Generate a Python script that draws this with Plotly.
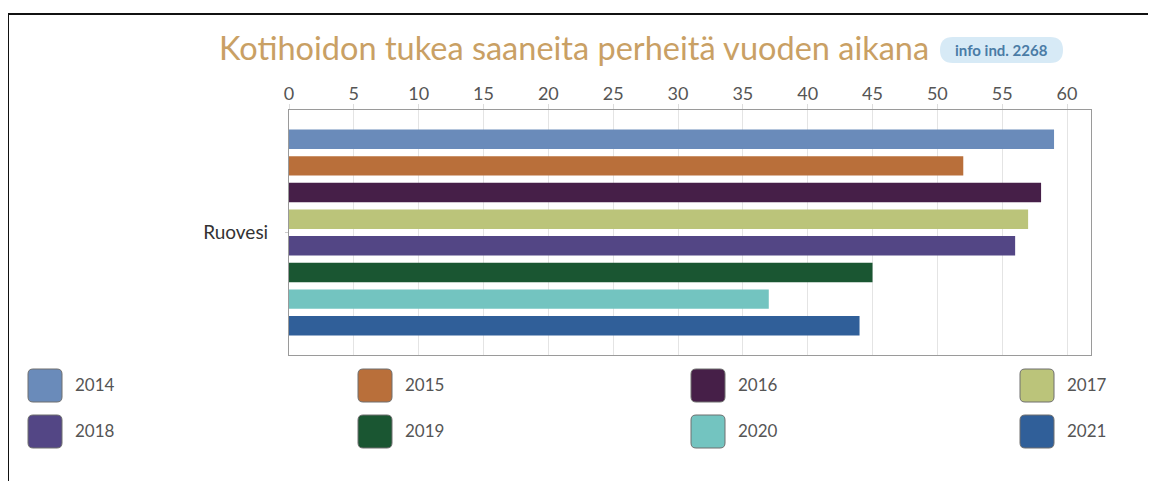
import plotly.graph_objects as go

# ---- data ----
categories = ["Ruovesi"]
years = ["2014", "2015", "2016", "2017", "2018", "2019", "2020", "2021"]
values = [59, 52, 58, 57, 56, 45, 37, 44]
colors = ["#6a8bba", "#b96f3a", "#461f48", "#bbc47a", "#534685", "#1a5632", "#73c4c0", "#305f99"]
x_ticks = [0, 5, 10, 15, 20, 25, 30, 35, 40, 45, 50, 55, 60]
title_text = "Kotihoidon tukea saaneita perheitä vuoden aikana"
badge_text = "info ind. 2268"

OFF = 8  # page body margin
W, H = 1156 - 2 * OFF, 489 - 2 * OFF
L, R, T, B = 289, 1091, 110, 355  # plot area in screenshot pixels


def px(x):
    return (x - L) / (R - L)


def py(y):
    return (B - y) / (B - T)


def rrect(x0, y0, x1, y1, r):
    pts = [
        f"M{px(x0 + r)},{py(y0)}",
        f"L{px(x1 - r)},{py(y0)}",
        f"Q{px(x1)},{py(y0)} {px(x1)},{py(y0 + r)}",
        f"L{px(x1)},{py(y1 - r)}",
        f"Q{px(x1)},{py(y1)} {px(x1 - r)},{py(y1)}",
        f"L{px(x0 + r)},{py(y1)}",
        f"Q{px(x0)},{py(y1)} {px(x0)},{py(y1 - r)}",
        f"L{px(x0)},{py(y0 + r)}",
        f"Q{px(x0)},{py(y0)} {px(x0 + r)},{py(y0)}",
        "Z",
    ]
    return " ".join(pts)


fig = go.Figure()
for yr, v, c in zip(years, values, colors):
    fig.add_trace(go.Bar(
        y=categories, x=[v], name=yr, orientation="h",
        marker=dict(color=c, line=dict(width=0)),
        showlegend=False,
    ))

shapes = []
annotations = []

# outer frame
shapes.append(dict(type="rect", xref="paper", yref="paper",
                   x0=px(8), x1=px(1154), y0=py(14), y1=py(520),
                   line=dict(color="#111111", width=2), fillcolor="rgba(0,0,0,0)", layer="above"))

# title
annotations.append(dict(text=title_text, xref="paper", yref="paper",
                        x=px(217), y=py(47), xanchor="left", yanchor="middle",
                        showarrow=False, font=dict(family="Lato", size=32.5, color="#c9a064")))
# badge
shapes.append(dict(type="path", xref="paper", yref="paper",
                   path=rrect(940, 37, 1063, 63, 13), fillcolor="#d7eaf6",
                   line=dict(width=0), layer="above"))
annotations.append(dict(text="<b>" + badge_text + "</b>", xref="paper", yref="paper",
                        x=px(1001.5), y=py(50), xanchor="center", yanchor="middle",
                        showarrow=False, font=dict(family="Lato", size=15, color="#4a7ca6")))

# legend (manual, 4 columns)
col_x = [28, 358, 691, 1020]
row_y = [369, 415]
for i, (yr, c) in enumerate(zip(years, colors)):
    cx = col_x[i % 4]
    ry = row_y[i // 4]
    shapes.append(dict(type="path", xref="paper", yref="paper",
                       path=rrect(cx, ry, cx + 34, ry + 33, 5), fillcolor=c,
                       line=dict(color="#6f6f6f", width=1), layer="above"))
    annotations.append(dict(text=yr, xref="paper", yref="paper",
                            x=px(cx + 45), y=py(ry + 15), xanchor="left", yanchor="middle",
                            showarrow=False, font=dict(family="Lato", size=17, color="#555555")))

fig.update_layout(
    width=W, height=H,
    margin=dict(l=L - OFF, r=W - (R - OFF), t=T - OFF, b=H - (B - OFF), pad=0),
    paper_bgcolor="white", plot_bgcolor="white",
    barmode="group", bargap=0.13, bargroupgap=0.27,
    shapes=shapes, annotations=annotations,
    showlegend=False,
    xaxis=dict(side="top", range=[0, 61.85], tickvals=x_ticks,
               showgrid=True, gridcolor="#e4e4e4", gridwidth=1,
               zeroline=False, showline=True, mirror=True, linecolor="#9a9a9a", linewidth=1,
               ticks="outside", ticklen=5, tickcolor="#dddddd", ticklabelstandoff=-3,
               tickfont=dict(family="Lato", size=18, color="#555555")),
    yaxis=dict(range=[0.5, -0.5], showgrid=False, zeroline=False,
               showline=True, mirror=True, linecolor="#9a9a9a", linewidth=1,
               ticks="outside", ticklen=3, tickcolor="#cccccc", ticklabelstandoff=13,
               tickfont=dict(family="Lato", size=19, color="#333333")),
)

fig.write_html("out.html")
